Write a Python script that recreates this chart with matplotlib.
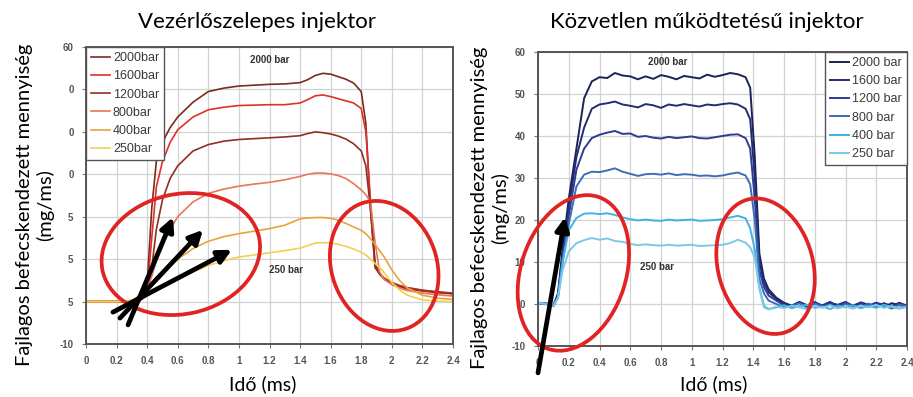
import matplotlib
matplotlib.use("Agg")
import matplotlib.pyplot as plt
from matplotlib.patches import Ellipse
from matplotlib.transforms import ScaledTranslation

# --- data ---
labels_left = ["2000bar", "1600bar", "1200bar", "800bar", "400bar", "250bar"]
labels_right = ["2000 bar", "1600 bar", "1200 bar", "800 bar", "400 bar", "250 bar"]

t_left = [0, 0.1, 0.2, 0.3, 0.35, 0.4, 0.43, 0.46, 0.5, 0.55,
          0.6, 0.7, 0.8, 0.9, 1.0, 1.1, 1.2, 1.3, 1.4, 1.45,
          1.5, 1.55, 1.6, 1.65, 1.7, 1.75, 1.8, 1.83, 1.86, 1.89,
          1.92, 1.95, 2.0, 2.05, 2.1, 2.2, 2.3, 2.4]

p2000 = [0, 0, 0, 0, 0.3, 4, 22, 33, 37.5, 41,
         43.5, 47, 49.5, 50.3, 50.8, 51.0, 51.2, 51.3, 51.6, 52.3,
         53.3, 53.8, 53.6, 53.0, 52.4, 51.5, 49.5, 42, 22, 8,
         6.5, 5.5, 4.5, 3.8, 3.3, 2.7, 2.3, 2.0]
p1600 = [0, 0, 0, 0, 0.2, 2.5, 15, 27, 33, 37.5,
         40.5, 43.5, 45.2, 45.8, 46.2, 46.3, 46.4, 46.4, 46.8, 47.6,
         48.5, 48.7, 48.3, 47.8, 47.3, 46.8, 45.5, 40, 24, 9,
         6.5, 5.5, 4.4, 3.7, 3.2, 2.6, 2.2, 1.9]
p1200 = [0, 0, 0, 0, 0.1, 1.5, 8, 17, 24, 29,
         32, 35.5, 37, 37.8, 38.2, 38.4, 38.6, 38.8, 39.1, 39.6,
         40.0, 39.8, 39.5, 39.0, 38.3, 37.2, 35.5, 32, 22, 9,
         6.5, 5.3, 4.2, 3.5, 3.0, 2.5, 2.1, 1.8]
p800 = [0, 0, 0, 0.2, 1, 3, 6, 9.5, 13, 17,
        20, 23.5, 25.5, 26.5, 27.2, 27.7, 28.1, 28.7, 29.5, 30.0,
        30.3, 30.3, 30.1, 29.7, 29.0, 27.8, 26.3, 25.2, 23.5, 14,
        7, 5.2, 4, 3.2, 2.6, 2.0, 1.6, 1.3]
p400 = [0, 0, 0, 0.3, 1.2, 2.5, 4, 5.5, 7, 8.5,
        10, 12.5, 14.2, 15.3, 16.0, 16.6, 17.2, 18.0, 19.5, 19.7,
        19.8, 19.8, 19.6, 19.2, 18.4, 17.6, 16.8, 16, 14.8, 13.5,
        12, 10.5, 7.5, 5, 3.2, 1.5, 0.8, 0.5]
p250 = [0, 0, 0, 0.1, 0.6, 1.3, 2, 2.8, 3.5, 4.5,
        5.3, 7, 8.5, 9.6, 10.5, 11.0, 11.5, 12.0, 12.6, 13.2,
        13.8, 13.9, 13.8, 13.5, 13.0, 12.4, 11.6, 11, 10, 9,
        8, 6.8, 4.5, 2.8, 1.5, 0.4, 0.1, 0]

t_right = [0, 0.05, 0.1, 0.13, 0.16, 0.2, 0.25, 0.3, 0.35, 0.4,
           0.45, 0.5, 0.55, 0.6, 0.65, 0.7, 0.75, 0.8, 0.85, 0.9,
           0.95, 1.0, 1.05, 1.1, 1.15, 1.2, 1.25, 1.3, 1.35, 1.38,
           1.41, 1.44, 1.47, 1.5, 1.55, 1.6, 1.65, 1.7, 1.75, 1.8,
           1.85, 1.9, 1.95, 2.0, 2.05, 2.1, 2.15, 2.2, 2.25, 2.3,
           2.35, 2.4]

r2000 = [0.3, 0.2, -0.3, 2.5, 13, 25, 37, 49, 53, 54,
         53.8, 55, 54.4, 54.2, 53.5, 54.2, 53.6, 54.5, 54.1, 53.5,
         54.3, 54.0, 53.7, 54.6, 54.1, 54.5, 55.0, 54.7, 54.0, 51.5,
         35, 12, 6, 3.5, 1.5, 0.3, -0.4, 0.5, -0.3, 0.4,
         -0.6, 0.3, -0.2, 0.5, -0.5, 0.2, -0.4, 0.3, -0.8, 0.2,
         -0.3, -0.6]
r1600 = [0.2, 0.1, -0.4, 2, 12, 23, 35, 42, 46.5, 47.5,
         47.8, 48.2, 47.5, 47.2, 46.8, 47.6, 47.3, 46.7, 47.5, 47.2,
         47.6, 47.3, 47.0, 47.5, 47.3, 47.6, 47.8, 47.5, 46.5, 44,
         30, 10, 5, 2.8, 1.2, 0.1, -0.5, 0.4, -0.6, 0.2,
         -0.3, 0.5, -0.7, 0.1, -0.4, 0.4, -0.2, -0.6, 0.2, -0.5,
         0.3, -0.4]
r1200 = [0.2, 0.1, -0.5, 2, 11, 21, 32, 37, 39.5, 40.3,
         40.8, 41.2, 40.5, 40.6, 39.8, 40.0, 39.6, 39.4, 39.8, 39.5,
         39.7, 39.9, 39.5, 39.4, 39.7, 40.0, 40.3, 40.4, 39.5, 37,
         25, 8, 4, 2, 0.8, -0.3, -0.6, 0.3, -0.4, 0.5,
         -0.5, 0.1, -0.3, 0.4, -0.6, 0.2, -0.5, 0.3, -0.2, -0.7,
         0.1, -0.5]
r800 = [0.1, 0.0, -0.5, 1.5, 10, 19, 28, 30.8, 31.5, 31.4,
        31.8, 32.3, 31.5, 31.0, 30.5, 30.9, 31.0, 30.8, 31.1, 30.7,
        30.9, 30.8, 30.5, 30.6, 30.4, 30.6, 31.0, 31.3, 30.6, 28.5,
        20, 6, 2.5, 0.8, 0, -0.8, -0.4, 0.2, -0.9, 0.1,
        -0.6, -0.2, -1.0, 0.0, -0.5, -0.9, 0.1, -0.7, -0.3, -1.1,
        -0.2, -0.6]
r400 = [0.2, 0.0, -0.5, 1.5, 10, 17.5, 20.5, 21.5, 21.6, 21.4,
        21.6, 21.2, 20.6, 20.2, 19.9, 20.1, 19.9, 19.8, 20.1, 19.9,
        20.0, 20.1, 19.8, 19.9, 20.0, 20.2, 20.6, 21.0, 20.4, 18,
        13, 4, -0.5, -1.2, -0.8, -0.3, -1.0, -0.5, -0.2, -0.9,
        -0.6, -1.2, -0.4, -0.8, -0.3, -1.0, -0.5, -0.9, -0.2, -0.7,
        -1.1, -0.6]
r250 = [0.3, 0.1, -0.4, 1.5, 8, 12.5, 14.5, 15.2, 15.7, 15.3,
        15.6, 15.0, 14.8, 14.3, 14.0, 14.2, 14.0, 13.9, 14.1, 13.9,
        14.0, 14.1, 13.8, 13.9, 14.0, 14.1, 14.5, 15.3, 14.6, 13.5,
        11, 3.5, -0.8, -1.3, -0.6, -1.0, -0.4, -0.8, -1.2, -0.5,
        -0.9, -0.3, -1.0, -0.6, -1.1, -0.4, -0.8, -0.2, -0.9, -0.5,
        -1.0, -0.7]

x_ticks = [0, 0.2, 0.4, 0.6, 0.8, 1, 1.2, 1.4, 1.6, 1.8, 2, 2.2, 2.4]
x_ticklabels = ["0", "0.2", "0.4", "0.6", "0.8", "1", "1.2", "1.4", "1.6", "1.8", "2", "2.2", "2.4"]
y_ticks = [-10, 0, 10, 20, 30, 40, 50, 60]
y_ticklabels_left = ["-10", "5", "5", "5", "0", "0", "0", "60"]
y_ticklabels_right = ["-10", "0", "10", "20", "30", "40", "50", "60"]

colors_left = ["#7b2b1e", "#e0302a", "#8e3020", "#e8765a", "#eaa23a", "#f2d050"]
colors_right = ["#1c2358", "#222c72", "#2d3b95", "#3d6db5", "#3fb3e3", "#7ec8e6"]

label_font = "Lato"
tick_font = "Liberation Sans"
red = "#e02424"


def style_axes(ax, yticklabels):
    ax.set_xlim(0, 2.4)
    ax.set_ylim(-10, 60)
    ax.set_xticks(x_ticks)
    ax.set_xticklabels(x_ticklabels)
    ax.set_yticks(y_ticks)
    ax.set_yticklabels(yticklabels)
    ax.grid(True, color="#d2d2d2", lw=0.9)
    ax.set_axisbelow(True)
    for s in ax.spines.values():
        s.set_color("#555555")
        s.set_linewidth(1.4)
    ax.tick_params(length=3, width=0.8, color="#777777", labelcolor="#555555",
                   labelsize=7, pad=6)
    for lab in ax.get_xticklabels() + ax.get_yticklabels():
        lab.set_fontfamily(tick_font)
        lab.set_fontweight("bold")


def add_ellipse(fig, ax, cx, cy, w, h, angle):
    # centre in data units, size in inches
    trans = fig.dpi_scale_trans + ScaledTranslation(cx, cy, ax.transData)
    e = Ellipse((0, 0), w, h, angle=angle, transform=trans, fill=False,
                ec=red, lw=2.7, clip_on=False, zorder=6)
    ax.add_patch(e)


def add_arrow(ax, tail, tip):
    ax.annotate("", xy=tip, xytext=tail, annotation_clip=False, zorder=7,
                arrowprops=dict(arrowstyle="-|>,head_length=0.8,head_width=0.4",
                                color="black", lw=3.4, shrinkA=0, shrinkB=0))


def main():
    fig = plt.figure(figsize=(9.13, 3.97), dpi=100)
    ax1 = fig.add_axes([86 / 913, 53 / 397, 367 / 913, 297 / 397])
    ax2 = fig.add_axes([538 / 913, 51 / 397, 369 / 913, 294 / 397])

    for y, c, lab in zip([p2000, p1600, p1200, p800, p400, p250], colors_left, labels_left):
        ax1.plot(t_left, y, color=c, lw=1.2, label=lab)
    for y, c, lab in zip([r2000, r1600, r1200, r800, r400, r250], colors_right, labels_right):
        ax2.plot(t_right, y, color=c, lw=1.4, label=lab)

    style_axes(ax1, y_ticklabels_left)
    style_axes(ax2, y_ticklabels_right)

    leg_kw = dict(frameon=True, fancybox=False, framealpha=1, edgecolor="#555555",
                  borderaxespad=0, handlelength=1.5, handletextpad=0.25,
                  labelspacing=0.5, borderpad=0.4, labelcolor="#3a3a3a",
                  prop={"family": tick_font, "size": 9})
    l1 = ax1.legend(loc="upper left", bbox_to_anchor=(0, 1), **leg_kw)
    l2 = ax2.legend(loc="upper right", bbox_to_anchor=(1, 1), **leg_kw)
    l1.get_frame().set_linewidth(1.0)
    l2.get_frame().set_linewidth(1.0)

    ann = dict(fontsize=7, fontweight="bold", color="#333333", family=tick_font,
               ha="center", va="center")
    ax1.text(1.2, 57, "2000 bar", **ann)
    ax1.text(1.31, 7.4, "250 bar", **ann)
    ax2.text(0.846, 57.6, "2000 bar", **ann)
    ax2.text(0.774, 8.7, "250 bar", **ann)

    # highlight rings and arrows
    add_ellipse(fig, ax1, 0.62, 11.2, 1.60, 1.20, 12)
    add_ellipse(fig, ax1, 1.95, 8.4, 1.05, 1.33, 20)
    add_ellipse(fig, ax2, 0.23, 7.4, 1.05, 1.60, -18)
    add_ellipse(fig, ax2, 1.48, 9.0, 0.95, 1.38, 15)

    add_arrow(ax1, (0.275, -5.5), (0.569, 19.9))
    add_arrow(ax1, (0.222, -3.9), (0.765, 16.9))
    add_arrow(ax1, (0.176, -2.5), (0.954, 12.2))
    add_arrow(ax2, (0.0, -16.4), (0.176, 20.7))

    fig.text(257 / 913, 1 - 22 / 397, "Vezérlőszelepes injektor", ha="center", va="center",
             family=label_font, fontsize=16, color="black")
    fig.text(707 / 913, 1 - 22 / 397, "Közvetlen működtetésű injektor", ha="center", va="center",
             family=label_font, fontsize=16, color="black")
    fig.text(263 / 913, 1 - 384 / 397, "Idő (ms)", ha="center", va="center",
             family=label_font, fontsize=14, color="black")
    fig.text(714 / 913, 1 - 384 / 397, "Idő (ms)", ha="center", va="center",
             family=label_font, fontsize=14, color="black")
    ylab = "Fajlagos befecskendezett mennyiség\n(mg/ms)"
    fig.text(35 / 913, 1 - 205 / 397, ylab, rotation=90, ha="center", va="center",
             multialignment="center", linespacing=1.2, family=label_font, fontsize=14.5)
    fig.text(490 / 913, 1 - 208 / 397, ylab, rotation=90, ha="center", va="center",
             multialignment="center", linespacing=1.2, family=label_font, fontsize=14.5)

    fig.savefig("out.png", dpi=100)


if __name__ == "__main__":
    main()
